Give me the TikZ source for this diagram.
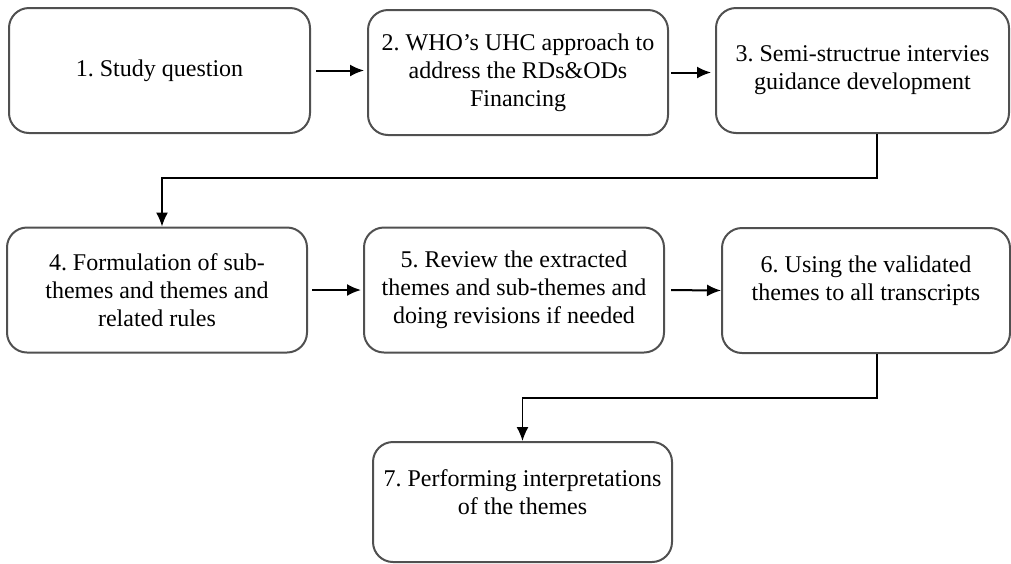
\documentclass[tikz,border=0pt]{standalone}
\usepackage{fontspec}
\setmainfont{Liberation Serif}
\usetikzlibrary{arrows.meta}
\frenchspacing

\definecolor{edgegray}{RGB}{80,80,80}

\tikzstyle{block} = [draw=edgegray, line width=1pt, rectangle, rounded corners=10pt,
    minimum height=62.5pt, align=center, inner sep=2pt,
    font=\fontsize{12pt}{14pt}\selectfont]
\tikzstyle{line} = [draw, line width=1pt]
\tikzstyle{elbow} = [draw, line width=0.7pt]
\tikzstyle{junction} = [coordinate]

\begin{document}
\begin{tikzpicture}[x=0.5pt, y=-0.5pt, >={Latex[length=7pt,width=6pt]}]
    \useasboundingbox (0,0) rectangle (1011,563);
    % We start by placing the blocks
    \node [block, minimum width=150.5pt] (question) at (159.5,70.5) {1. Study question};
    \node [block, minimum width=150pt] (approach) at (518,72.5)
        {2. WHO’s UHC approach to\\address the RDs\&ODs\\Financing};
    \node [block, minimum width=146.5pt] (guidance) at (862.5,70.5)
        {3. Semi-structrue intervies\\guidance development};
    \node [block, minimum width=150pt] (formulation) at (157,290)
        {4. Formulation of sub-\\themes and themes and\\related rules};
    \node [block, minimum width=150pt] (review) at (514,290)
        {5. Review the extracted\\themes and sub-themes and\\doing revisions if needed};
    \node [block, minimum width=144pt] (validated) at (866,290.5)
        {6. Using the validated\\themes to all transcripts\\[-2pt]\mbox{}};
    \node [block, minimum width=149.5pt, minimum height=60pt] (interpret) at (522.5,502)
        {7. Performing interpretations\\of the themes\\[-4pt]\mbox{}};

    % the turning points of the long connectors
    \node [junction] (turn1) at (877,178) {};
    \node [junction] (turn2) at (877,398) {};

    \draw [line,->, shorten <=2.5pt, shorten >=1.5pt] (question.east) -- (question.east -| approach.west);
    \draw [line,->, shorten <=1pt, shorten >=2pt] (approach.east) -- (approach.east -| guidance.west);
    \draw [elbow,->] (guidance.south -| turn1) -- (turn1) -| ([xshift=2.5pt]formulation.north);
    \draw [line,->, shorten <=2pt, shorten >=1pt] (formulation.east) -- (review.west);
    \draw [line,->, shorten <=3pt] (review.east) -- (validated.west);
    \draw [elbow,->] (validated.south -| turn2) -- (turn2) -| (interpret.north);
\end{tikzpicture}
\end{document}
